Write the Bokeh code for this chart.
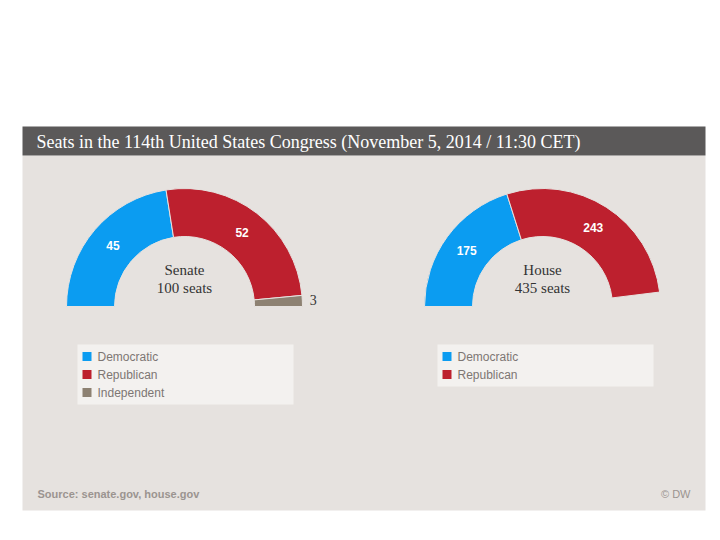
import math
from bokeh.plotting import figure
from bokeh.models import Range1d, ColumnDataSource
from bokeh.core.properties import value
from bokeh.embed import file_html
from bokeh.resources import INLINE

# ---------------- data ----------------
title_text = "Seats in the 114th United States Congress (November 5, 2014 / 11:30 CET)"
source_text = "Source: senate.gov, house.gov"
credit_text = "\u00a9 DW"

chambers = ["Senate", "House"]
totals = [100, 435]
senate_parties = ["Democratic", "Republican", "Independent"]
senate_seats = [45, 52, 3]
house_parties = ["Democratic", "Republican"]
house_seats = [175, 243]

party_colors = {"Democratic": "#0b9cf1", "Republican": "#bd202e", "Independent": "#8d8172"}

# ---------------- layout (screen px) ----------------
W, H = 706, 524


def Y(sy):
    return 540 - sy


p = figure(width=W, height=H, x_range=Range1d(0, W), y_range=Range1d(540 - H, 540),
           output_backend="svg", toolbar_location=None, min_border=0,
           background_fill_color="white", border_fill_color="white", outline_line_color=None)
p.axis.visible = False
p.grid.visible = False

# panel and title bar
p.quad(left=[22], right=[705], top=[Y(155)], bottom=[Y(510)], fill_color="#e6e2df", line_color=None)
p.quad(left=[22], right=[705], top=[Y(126)], bottom=[Y(155)], fill_color="#5b5959", line_color=None)
p.text(x=[36], y=[Y(141)], text=[title_text], text_color="white", text_font=value("Liberation Serif"),
       text_font_size="18px", text_baseline="middle", text_align="left")

# footer
p.text(x=[37], y=[Y(493)], text=[source_text], text_color="#9b9490", text_font=value("Liberation Sans"),
       text_font_style="bold", text_font_size="11px", text_baseline="middle", text_align="left")
p.text(x=[690], y=[Y(493)], text=[credit_text], text_color="#9b9490", text_font=value("Liberation Sans"),
       text_font_size="11px", text_baseline="middle", text_align="right")

centers = [(184, 306), (542, 306)]
R_OUT, R_IN = 118, 70
legend_boxes = [(77, 293, 344), (437, 653, 344)]

for ci, (name, total, parties, seats) in enumerate(zip(chambers, totals, [senate_parties, house_parties],
                                                      [senate_seats, house_seats])):
    cx, cy = centers[ci]
    starts, ends, cols, lx, ly, ltxt, ox, oy, otxt = [], [], [], [], [], [], [], [], []
    cum = 0
    for party, s in zip(parties, seats):
        a_end = math.pi * (1 - cum / total)
        a_start = math.pi * (1 - (cum + s) / total)
        starts.append(a_start)
        ends.append(a_end)
        cols.append(party_colors[party])
        mid = (a_start + a_end) / 2
        if s / total >= 0.1:
            r = (R_OUT + R_IN) / 2
            lx.append(cx + r * math.cos(mid))
            ly.append(Y(cy) + r * math.sin(mid))
            ltxt.append(str(s))
        else:
            r = R_OUT + 11
            ox.append(cx + r * math.cos(mid))
            oy.append(Y(cy) + r * math.sin(mid))
            otxt.append(str(s))
        cum += s
    src = ColumnDataSource(dict(x=[cx] * len(seats), y=[Y(cy)] * len(seats), start=starts, end=ends, color=cols))
    p.annular_wedge(x="x", y="y", inner_radius=R_IN, outer_radius=R_OUT, start_angle="start", end_angle="end",
                    fill_color="color", line_color="#e6e2df", line_width=1, source=src)
    p.text(x=lx, y=ly, text=ltxt, text_color="white", text_font=value("Liberation Sans"), text_font_style="bold",
           text_font_size="12px", text_align="center", text_baseline="middle")
    if otxt:
        p.text(x=ox, y=oy, text=otxt, text_color="#333333", text_font=value("Liberation Serif"),
               text_font_size="14px", text_align="center", text_baseline="middle")
    # center labels
    p.text(x=[cx], y=[Y(cy - 37)], text=[name], text_color="#333333", text_font=value("Liberation Serif"),
           text_font_size="15px", text_align="center", text_baseline="middle")
    p.text(x=[cx], y=[Y(cy - 19)], text=[f"{total} seats"], text_color="#333333",
           text_font=value("Liberation Serif"), text_font_size="15px", text_align="center", text_baseline="middle")

    # legend
    lx0, lx1, ly0 = legend_boxes[ci]
    n = len(parties)
    p.quad(left=[lx0], right=[lx1], top=[Y(ly0)], bottom=[Y(ly0 + 6 + 18 * n)], fill_color="#f3f1ef",
           line_color=None)
    rows_y = [Y(ly0 + 12 + 18 * i) for i in range(n)]
    p.rect(x=[lx0 + 9.5] * n, y=rows_y, width=9, height=9, fill_color=[party_colors[q] for q in parties],
           line_color=None)
    p.text(x=[lx0 + 20] * n, y=rows_y, text=parties, text_color="#7d7673", text_font=value("Liberation Sans"),
           text_font_size="12px", text_align="left", text_baseline="middle")

open("out.html", "w").write(file_html(p, INLINE))
